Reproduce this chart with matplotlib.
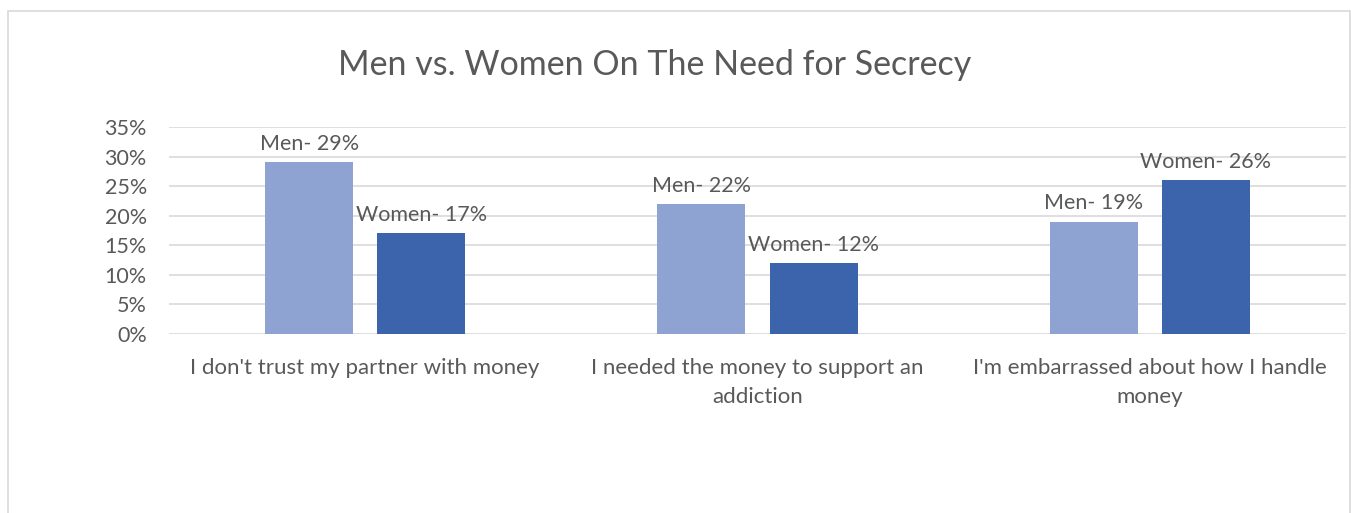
import matplotlib
matplotlib.use("Agg")
import matplotlib.pyplot as plt
from matplotlib.patches import Rectangle
import numpy as np

categories = ["I don't trust my partner with money",
              "I needed the money to support an\naddiction",
              "I'm embarrassed about how I handle\nmoney"]
men = [0.29, 0.22, 0.19]
women = [0.17, 0.12, 0.26]
men_labels = ["Men- 29%", "Men- 22%", "Men- 19%"]
women_labels = ["Women- 17%", "Women- 12%", "Women- 26%"]
yticks = [0, 0.05, 0.10, 0.15, 0.20, 0.25, 0.30, 0.35]
yticklabels = ["0%", "5%", "10%", "15%", "20%", "25%", "30%", "35%"]
title = "Men vs. Women On The Need for Secrecy"

plt.rcParams['font.family'] = ['Lato', 'DejaVu Sans']
txt = '#595959'

fig = plt.figure(figsize=(13.51, 5.13), dpi=100)
fig.patches.append(Rectangle((8/1351, -0.1), (1350-8)/1351, 1.1 - 11/513,
                             transform=fig.transFigure, fill=False,
                             edgecolor='#D9D9D9', linewidth=1.2, clip_on=False))
ax = fig.add_axes([169/1351, 1-334/513, (1346-169)/1351, (334-127)/513])

x = np.arange(len(categories))
w = 0.224
off = 0.143
b1 = ax.bar(x - off, men, w, color='#8FA3D3', zorder=3)
b2 = ax.bar(x + off, women, w, color='#3C64AC', zorder=3)

for bars, labels in ((b1, men_labels), (b2, women_labels)):
    for r, lab in zip(bars, labels):
        ax.annotate(lab, (r.get_x() + r.get_width()/2, r.get_height()),
                    xytext=(0, 6), textcoords='offset points',
                    ha='center', va='bottom', fontsize=15.5, color=txt)

ax.set_xlim(-0.5, 2.5)
ax.set_ylim(0, 0.35)
ax.set_yticks(yticks)
ax.set_yticklabels(yticklabels, fontsize=15.5, color=txt)
ax.set_xticks(x)
ax.set_xticklabels(categories, fontsize=16, color=txt, linespacing=1.6)
ax.tick_params(axis='both', length=0)
ax.tick_params(axis='y', pad=16)
ax.tick_params(axis='x', pad=17)
ax.yaxis.grid(True, color='#D9D9D9', linewidth=1.2, zorder=0)
ax.set_axisbelow(True)
for s in ax.spines.values():
    s.set_visible(False)

fig.text(655/1351, 1-65/513, title, ha='center', va='center', fontsize=24.5, color=txt)

fig.savefig('out.png', dpi=100)
